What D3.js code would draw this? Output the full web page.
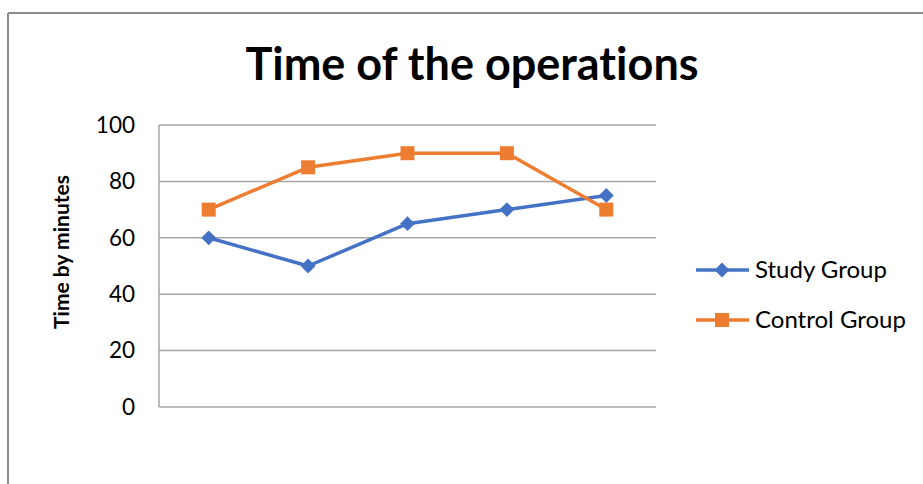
<!DOCTYPE html>
<html>
<head>
<meta charset="utf-8">
<script src="https://cdn.jsdelivr.net/npm/d3@7"></script>
<style>
  body { margin: 0; background: #fff; }
  text { font-family: Lato, "Open Sans", "Liberation Sans", sans-serif; font-variant-ligatures: none; }
</style>
</head>
<body>
<div id="chart"></div>
<script>
// data
var categories = ["1", "2", "3", "4", "5"];
var studyGroup = [60, 50, 65, 70, 75];
var controlGroup = [70, 85, 90, 90, 70];
var yTicks = [0, 20, 40, 60, 80, 100];
var seriesNames = ["Study Group", "Control Group"];

var width = 923, height = 484;
var plot = { left: 159, right: 656, top: 125, bottom: 407 };

var svg = d3.select("#chart").append("svg")
  .attr("width", width)
  .attr("height", height);

// outer frame (only left and top edges are visible)
svg.append("line").attr("x1", 8).attr("x2", 8).attr("y1", 13).attr("y2", height)
  .attr("stroke", "#8c8c8c").attr("stroke-width", 2);
svg.append("line").attr("x1", 8).attr("x2", width).attr("y1", 13).attr("y2", 13)
  .attr("stroke", "#8c8c8c").attr("stroke-width", 2);

var x = d3.scaleBand().domain(categories).range([plot.left, plot.right]);
var y = d3.scaleLinear().domain([0, 100]).range([plot.bottom, plot.top]);

// gridlines
svg.append("g").selectAll("line")
  .data(yTicks)
  .enter()
  .append("line")
  .attr("x1", plot.left).attr("x2", plot.right)
  .attr("y1", d => y(d)).attr("y2", d => y(d))
  .attr("stroke", "#a6a6a6").attr("stroke-width", 1.5);

// y axis line
svg.append("line").attr("x1", plot.left).attr("x2", plot.left)
  .attr("y1", plot.top).attr("y2", plot.bottom)
  .attr("stroke", "#a6a6a6").attr("stroke-width", 1.5);

// tick labels
svg.append("g").selectAll("text")
  .data(yTicks)
  .enter()
  .append("text")
  .attr("x", 135)
  .attr("y", d => y(d))
  .attr("dy", "0.35em")
  .attr("text-anchor", "end")
  .attr("font-size", 22.5)
  .attr("fill", "#000")
  .text(d => d);

// title
svg.append("text")
  .attr("x", 472).attr("y", 80)
  .attr("text-anchor", "middle")
  .attr("font-size", 45).attr("font-weight", "bold")
  .text("Time of the operations");

// y axis title
svg.append("text")
  .attr("transform", "translate(69,252) rotate(-90)")
  .attr("text-anchor", "middle")
  .attr("font-size", 21).attr("font-weight", "bold")
  .text("Time by minutes");

var colors = ["#4472C4", "#ED7D31"];
var series = [studyGroup, controlGroup];

var line = d3.line()
  .x((d, i) => x(categories[i]) + x.bandwidth() / 2)
  .y(d => y(d));

series.forEach(function (values, s) {
  svg.append("path")
    .datum(values)
    .attr("fill", "none")
    .attr("stroke", colors[s])
    .attr("stroke-width", 3.5)
    .attr("stroke-linejoin", "round")
    .attr("d", line);

  svg.append("g").selectAll("path")
    .data(values)
    .enter()
    .append("path")
    .attr("transform", (d, i) => {
      var t = "translate(" + (x(categories[i]) + x.bandwidth() / 2) + "," + y(d) + ")";
      return s === 0 ? t + " rotate(45)" : t;
    })
    .attr("d", d3.symbol().type(d3.symbolSquare).size(s === 0 ? 110 : 196))
    .attr("fill", colors[s]);
});

// legend
var legend = svg.append("g");
seriesNames.forEach(function (name, s) {
  var ly = 270 + s * 50;
  legend.append("line")
    .attr("x1", 696).attr("x2", 749).attr("y1", ly).attr("y2", ly)
    .attr("stroke", colors[s]).attr("stroke-width", 3.5);
  legend.append("path")
    .attr("transform", "translate(722," + ly + ")" + (s === 0 ? " rotate(45)" : ""))
    .attr("d", d3.symbol().type(d3.symbolSquare).size(s === 0 ? 110 : 196))
    .attr("fill", colors[s]);
  legend.append("text")
    .attr("x", 755).attr("y", ly)
    .attr("dy", "0.35em")
    .attr("font-size", 24)
    .text(name);
});
</script>
</body>
</html>
